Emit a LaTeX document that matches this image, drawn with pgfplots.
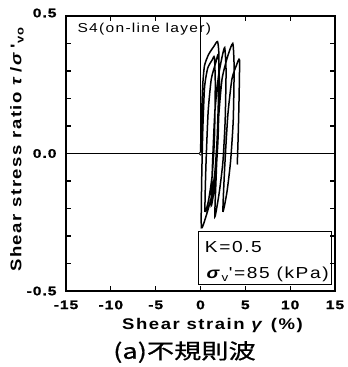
\documentclass[border=0pt]{standalone}
\usepackage{pgfplots}
\pgfplotsset{compat=1.18}
\usepackage{fontspec}
\setmainfont{Liberation Sans}
\newfontfamily\lblfont[LetterSpace=10, FakeStretch=1.2]{Liberation Sans}
\newfontfamily\tkfam[LetterSpace=8, FakeStretch=1.25, FakeBold=1.2]{Liberation Sans Bold}
\newfontfamily\cjk[FakeStretch=1.3, FakeBold=0.8]{Noto Sans CJK JP}
\newcommand\tk{\tkfam\fontsize{12.5}{14}\selectfont}

\begin{document}
\begin{tikzpicture}
\begin{axis}[
  scale only axis,
  width=269bp, height=275bp,
  xmin=-15, xmax=15, ymin=-0.5, ymax=0.5,
  xtick={-15,-10,-5,0,5,10,15},
  ytick={-0.5,-0.4,-0.3,-0.2,-0.1,0,0.1,0.2,0.3,0.4,0.5},
  xticklabel=\empty, yticklabel=\empty,
  tick align=inside,
  major tick length=5bp,
  tick style={black, line width=1.2bp},
  axis line style={line width=1.6bp},
  xlabel={\lblfont\bfseries\fontsize{15.5}{18}\selectfont Shear strain \textit{γ} (\%)},
  xlabel style={at={(rel axis cs:0.5,0)}, anchor=center, yshift=-35bp, xshift=12bp},
  ylabel={\lblfont\bfseries\fontsize{15.5}{18}\selectfont Shear stress ratio \textit{τ}\,/\,\textit{σ}\,'\textsubscript{vo}},
  ylabel style={at={(rel axis cs:0,0.5)}, anchor=center, yshift=49bp, xshift=4bp},
  clip=false,
]
% reference lines through the origin
\addplot[black, line width=1bp] coordinates {(-15,0) (15,0)};
\addplot[black, line width=1bp] coordinates {(0,0) (0,0.5)};

% stress-strain hysteresis loops
\addplot[black, line width=1.5bp, smooth, tension=0.35] coordinates {
  (0,0) (0.1,0.12) (0.25,0.25) (0.45,0.32) (0.9,0.36) (1.5,0.39) (1.9,0.407)
  (2.05,0.36) (2.0,0.2) (1.85,0.05) (1.6,-0.07) (1.2,-0.16) (0.6,-0.23) (0.1,-0.27)
  (0.12,-0.12) (0.25,0.08) (0.45,0.24) (0.8,0.31) (1.3,0.34) (1.55,0.35)
  (1.65,0.25) (1.55,0.05) (1.3,-0.08) (0.9,-0.17) (0.5,-0.21)
  (0.6,-0.05) (0.85,0.15) (1.2,0.27) (1.7,0.33) (2.0,0.36)
  (2.1,0.25) (1.95,0.05) (1.65,-0.1) (1.2,-0.19)
  (1.35,-0.03) (1.6,0.15) (2.0,0.28) (2.4,0.35) (2.7,0.385)
  (2.85,0.3) (2.75,0.12) (2.5,-0.03) (2.1,-0.14) (1.6,-0.23)
  (1.75,-0.08) (2.0,0.12) (2.4,0.27) (3.0,0.35) (3.6,0.40)
  (3.75,0.31) (3.65,0.12) (3.35,-0.03) (2.95,-0.14) (2.5,-0.21)
  (2.7,-0.05) (3.05,0.14) (3.5,0.27) (4.0,0.32) (4.35,0.34)
  (4.3,0.2) (4.2,0.06) (4.1,-0.04)
};
\addplot[only marks, mark=*, mark size=1.6bp, mark options={fill=white, draw=black, line width=0.6bp}] coordinates {(0,0)};

% tick labels
\node[anchor=north, font=\tk] at ([yshift=-6bp]axis cs:-15,-0.5) {-15};
\node[anchor=north, font=\tk] at ([yshift=-6bp]axis cs:-10,-0.5) {-10};
\node[anchor=north, font=\tk] at ([yshift=-6bp]axis cs:-5,-0.5) {-5};
\node[anchor=north, font=\tk] at ([yshift=-6bp]axis cs:0,-0.5) {0};
\node[anchor=north, font=\tk] at ([yshift=-6bp]axis cs:5,-0.5) {5};
\node[anchor=north, font=\tk] at ([yshift=-6bp]axis cs:10,-0.5) {10};
\node[anchor=north, font=\tk] at ([yshift=-6bp]axis cs:15,-0.5) {15};
\node[anchor=east, font=\tk] at ([xshift=-6bp, yshift=3bp]axis cs:-15,0.5) {0.5};
\node[anchor=east, font=\tk] at ([xshift=-6bp]axis cs:-15,0) {0.0};
\node[anchor=east, font=\tk] at ([xshift=-6bp]axis cs:-15,-0.5) {-0.5};

% labels inside the frame
\node[anchor=base west, font=\lblfont\fontsize{13}{15}\selectfont] at (axis cs:-14.1,0.44) {S4(on-line layer)};
\draw[line width=1.2bp] (axis cs:-0.2,-0.284) rectangle (axis cs:14.6,-0.476);
\node[anchor=base west, font=\lblfont\fontsize{16}{19}\selectfont] at (axis cs:0.1,-0.36) {K=0.5};
\node[anchor=base west, font=\lblfont\fontsize{16}{19}\selectfont] at (axis cs:0.3,-0.455) {\textit{\textbf{σ}}\textsubscript{v}'=85 (kPa)};

% caption below the axis
\node[anchor=center, font=\cjk\fontsize{21}{25}\selectfont] at ([yshift=-61bp, xshift=-16bp]rel axis cs:0.5,0) {(a)不規則波};

% page extent
\path (rel axis cs:-0.24535,-0.27636) rectangle (rel axis cs:1.04833,1.05818);
\end{axis}
\end{tikzpicture}
\end{document}
